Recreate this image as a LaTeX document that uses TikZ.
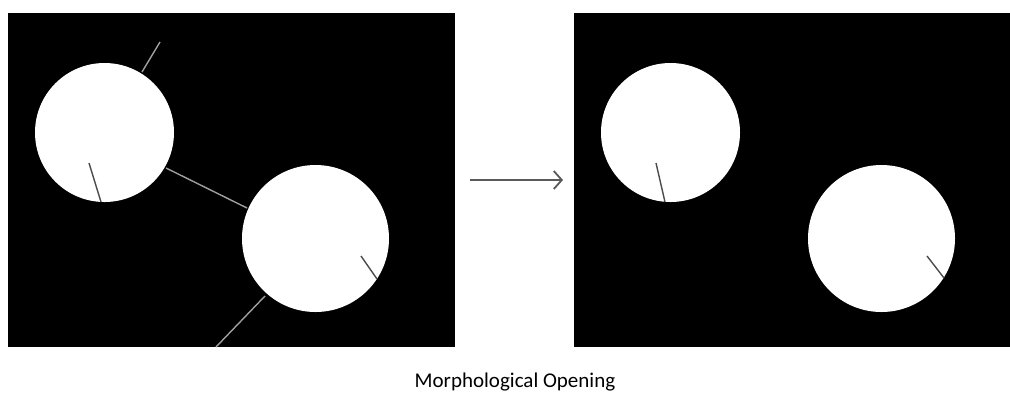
\documentclass[tikz,border=0pt]{standalone}
\usepackage{fontspec}
\setmainfont{Carlito}
\usetikzlibrary{arrows.meta, positioning}
\tikzset{
  panel/.style={fill=black},
  blob/.style={fill=white},
  spur/.style={draw=gray!75, line width=1.4pt},
  crack/.style={draw=black!70, line width=1.4pt},
  caption/.style={font=\fontsize{21}{25}\selectfont, text=black, anchor=base, inner sep=0pt},
}

\begin{document}
\begin{tikzpicture}[
  x=1pt, y=-1pt,
  arr/.style={-{Straight Barb[length=8pt, width=18pt]}, draw=black!65, line width=1.8pt}
]
  \useasboundingbox[fill=white] (0,0) rectangle (1010,392);

  % input image
  \fill[panel] (8,13) rectangle (455,347);
  \draw[spur] (160,42) -- (142,72);
  \draw[spur] (166,168) -- (247,208);
  \draw[spur] (265,296) -- (216,347);
  \fill[blob] (104.5,132.5) circle[radius=69.5pt];
  \fill[blob] (315.5,238.5) circle[radius=73.5pt];
  \draw[crack] (89,163) -- (101,202);
  \draw[crack] (361,256) -- (377,279);

  % result after opening
  \fill[panel] (574,13) rectangle (1010,347);
  \fill[blob] (670.5,132.5) circle[radius=69.5pt];
  \fill[blob] (881.5,238.5) circle[radius=73.5pt];
  \draw[crack] (656,163) -- (665,202);
  \draw[crack] (927,256) -- (944,278);

  \coordinate (src) at (470,180);
  \coordinate (dst) at (563,180);
  \draw[arr] (src) -- (dst);

  \node[caption] (title) at (515,387) {Morphological Opening};
\end{tikzpicture}
\end{document}
